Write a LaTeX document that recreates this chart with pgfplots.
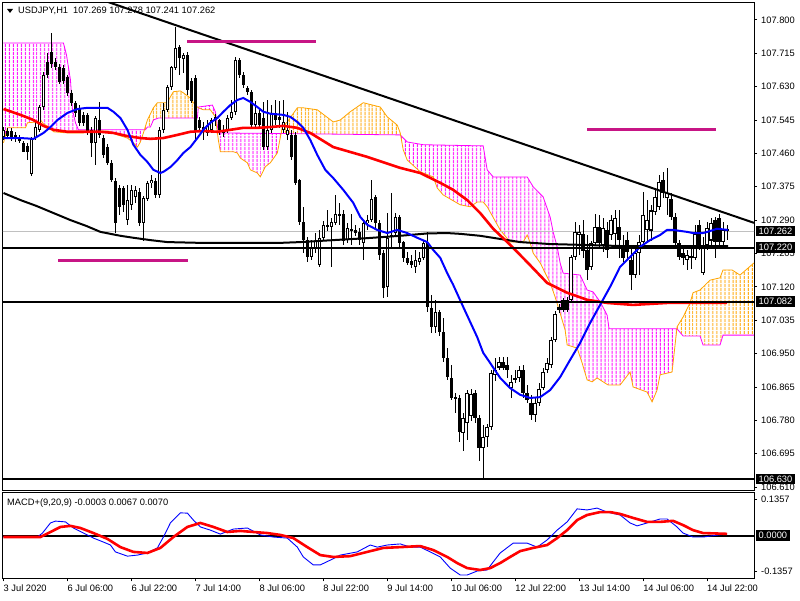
\documentclass[border=0pt]{standalone}
\usepackage{pgfplots}
\usepackage{pgfplotstable}
\pgfplotsset{compat=1.18}
\usetikzlibrary{patterns.meta,calc,backgrounds}
\usepackage{fontspec}
\setmainfont{Liberation Sans}
\definecolor{mtorange}{RGB}{255,165,0}
\definecolor{mtmag}{RGB}{255,0,255}
\definecolor{mtseg}{RGB}{199,21,133}
\definecolor{mtgray}{RGB}{192,192,192}
\newcommand{\mtfont}{\fontsize{9.3}{11}\selectfont}

\pgfplotstableread{
i o h l c
0 107.502 107.528 107.494 107.520
1 107.517 107.525 107.497 107.505
2 107.517 107.525 107.492 107.499
3 107.507 107.515 107.489 107.502
4 107.499 107.507 107.487 107.494
5 107.487 107.492 107.464 107.466
6 107.481 107.487 107.443 107.466
7 107.410 107.502 107.405 107.497
8 107.499 107.545 107.494 107.528
9 107.520 107.583 107.515 107.578
10 107.578 107.668 107.571 107.660
11 107.693 107.716 107.652 107.660
12 107.719 107.767 107.678 107.688
13 107.693 107.703 107.673 107.680
14 107.680 107.688 107.637 107.642
15 107.680 107.685 107.637 107.645
16 107.655 107.660 107.606 107.614
17 107.614 107.622 107.581 107.589
18 107.589 107.596 107.555 107.563
19 107.576 107.583 107.530 107.538
20 107.558 107.566 107.530 107.538
21 107.558 107.563 107.507 107.512
22 107.520 107.528 107.451 107.487
23 107.487 107.555 107.431 107.550
24 107.545 107.591 107.499 107.507
25 107.499 107.507 107.448 107.456
26 107.476 107.484 107.431 107.436
27 107.436 107.443 107.387 107.392
28 107.392 107.397 107.257 107.283
29 107.372 107.380 107.303 107.324
30 107.372 107.377 107.311 107.329
31 107.290 107.380 107.278 107.341
32 107.329 107.380 107.316 107.367
33 107.349 107.377 107.334 107.367
34 107.362 107.372 107.275 107.283
35 107.283 107.354 107.239 107.346
36 107.346 107.392 107.341 107.387
37 107.385 107.405 107.372 107.392
38 107.390 107.397 107.346 107.354
39 107.354 107.528 107.346 107.520
40 107.520 107.589 107.512 107.571
41 107.571 107.634 107.566 107.629
42 107.629 107.685 107.622 107.680
43 107.678 107.782 107.673 107.729
44 107.731 107.736 107.660 107.703
45 107.701 107.716 107.665 107.711
46 107.711 107.719 107.609 107.622
47 107.647 107.652 107.589 107.596
48 107.652 107.660 107.494 107.520
49 107.545 107.553 107.515 107.525
50 107.528 107.540 107.494 107.520
51 107.512 107.545 107.505 107.532
52 107.520 107.550 107.512 107.545
53 107.545 107.561 107.532 107.553
54 107.545 107.550 107.507 107.520
55 107.520 107.532 107.502 107.512
56 107.520 107.558 107.512 107.550
57 107.550 107.596 107.545 107.566
58 107.566 107.706 107.558 107.698
59 107.698 107.703 107.652 107.660
60 107.660 107.668 107.627 107.634
61 107.627 107.634 107.609 107.617
62 107.617 107.622 107.525 107.532
63 107.532 107.596 107.525 107.563
64 107.563 107.571 107.525 107.532
65 107.550 107.591 107.469 107.476
66 107.476 107.596 107.469 107.520
67 107.520 107.583 107.512 107.563
68 107.563 107.596 107.532 107.545
69 107.553 107.596 107.525 107.545
70 107.520 107.596 107.512 107.540
71 107.507 107.566 107.494 107.520
72 107.507 107.520 107.443 107.451
73 107.507 107.515 107.380 107.385
74 107.392 107.397 107.278 107.285
75 107.285 107.324 107.206 107.239
76 107.239 107.247 107.183 107.196
77 107.196 107.239 107.188 107.222
78 107.219 107.257 107.206 107.237
79 107.176 107.265 107.171 107.245
80 107.245 107.290 107.239 107.278
81 107.273 107.316 107.265 107.278
82 107.273 107.296 107.171 107.285
83 107.285 107.354 107.278 107.308
84 107.303 107.334 107.278 107.308
85 107.308 107.316 107.227 107.239
86 107.239 107.283 107.232 107.270
87 107.265 107.308 107.227 107.267
88 107.265 107.278 107.250 107.257
89 107.260 107.270 107.227 107.239
90 107.234 107.290 107.188 107.283
91 107.283 107.303 107.265 107.290
92 107.290 107.392 107.285 107.346
93 107.349 107.354 107.270 107.283
94 107.283 107.290 107.188 107.201
95 107.206 107.214 107.092 107.117
96 107.120 107.308 107.094 107.247
97 107.250 107.359 107.219 107.252
98 107.257 107.308 107.252 107.298
99 107.298 107.303 107.219 107.232
100 107.234 107.239 107.183 107.194
101 107.194 107.209 107.176 107.181
102 107.186 107.201 107.168 107.176
103 107.171 107.214 107.155 107.188
104 107.183 107.209 107.176 107.194
105 107.194 107.239 107.188 107.232
106 107.232 107.260 107.056 107.069
107 107.066 107.099 107.003 107.018
108 107.018 107.087 107.003 107.056
109 107.056 107.061 106.997 107.005
110 107.005 107.041 106.929 106.939
111 106.939 106.964 106.883 106.890
112 106.890 106.921 106.832 106.839
113 106.839 106.850 106.799 106.834
114 106.837 106.845 106.725 106.750
115 106.748 106.799 106.704 106.786
116 106.773 106.857 106.730 106.850
117 106.794 106.862 106.781 106.850
118 106.850 106.857 106.773 106.786
119 106.786 106.794 106.679 106.709
120 106.709 106.768 106.633 106.738
121 106.738 106.771 106.712 106.763
122 106.763 106.908 106.755 106.901
123 106.896 106.941 106.883 106.908
124 106.916 106.941 106.908 106.929
125 106.929 106.941 106.908 106.916
126 106.921 106.941 106.888 106.908
127 106.862 106.896 106.839 106.878
128 106.888 106.908 106.875 106.883
129 106.888 106.921 106.878 106.908
130 106.908 106.921 106.837 106.850
131 106.850 106.870 106.824 106.832
132 106.824 106.845 106.781 106.794
133 106.794 106.839 106.776 106.824
134 106.824 106.875 106.817 106.862
135 106.862 106.913 106.857 106.903
136 106.908 106.939 106.901 106.926
137 106.921 106.992 106.913 106.985
138 106.985 107.061 106.980 107.053
139 107.069 107.079 107.056 107.061
140 107.087 107.092 107.056 107.061
141 107.087 107.094 107.056 107.061
142 107.087 107.201 107.082 107.196
143 107.196 107.285 107.188 107.260
144 107.252 107.278 107.201 107.260
145 107.257 107.290 107.194 107.214
146 107.214 107.252 107.137 107.163
147 107.171 107.239 107.163 107.232
148 107.232 107.308 107.227 107.273
149 107.273 107.303 107.222 107.232
150 107.227 107.296 107.209 107.270
151 107.265 107.285 107.194 107.214
152 107.252 107.303 107.239 107.290
153 107.257 107.316 107.227 107.296
154 107.273 107.316 107.194 107.239
155 107.227 107.252 107.183 107.194
156 107.239 107.260 107.188 107.209
157 107.188 107.227 107.112 107.150
158 107.150 107.219 107.143 107.206
159 107.206 107.252 107.150 107.234
160 107.234 107.362 107.227 107.303
161 107.265 107.341 107.232 107.290
162 107.265 107.329 107.239 107.316
163 107.311 107.367 107.303 107.349
164 107.324 107.405 107.316 107.387
165 107.392 107.413 107.346 107.359
166 107.346 107.423 107.303 107.359
167 107.346 107.359 107.290 107.298
168 107.298 107.308 107.219 107.232
169 107.232 107.239 107.188 107.196
170 107.206 107.219 107.176 107.194
171 107.188 107.214 107.163 107.201
172 107.201 107.227 107.168 107.194
173 107.196 107.278 107.188 107.257
174 107.278 107.290 107.214 107.227
175 107.155 107.247 107.150 107.222
176 107.227 107.285 107.214 107.270
177 107.239 107.296 107.227 107.283
178 107.290 107.298 107.194 107.234
179 107.296 107.308 107.227 107.234
180 107.234 107.285 107.219 107.265
181 107.269 107.278 107.241 107.262
}\candles

\pgfplotstableread{
i p
0 107.741
15 107.741
15.75 107.711
16.75 107.647
17.25 107.571
18 107.538
18.75 107.520
35.5 107.520
36 107.527
36.75 107.527
37.5 107.545
38.75 107.550
48.5 107.550
48.75 107.578
52.25 107.583
53 107.566
53.75 107.512
74.25 107.510
99.25 107.507
101 107.489
105 107.482
120 107.479
121 107.418
122.5 107.400
131 107.400
132.5 107.375
135 107.349
136.75 107.298
137.5 107.260
138.5 107.222
139.25 107.181
140 107.155
144.25 107.150
146 107.112
147.5 107.107
149.25 107.082
151 107.048
151.5 107.013
168.5 107.013
170 106.995
174.25 106.995
175 106.972
179.25 106.972
180 106.997
187.75 106.997
}\spanB

\pgfplotstableread{
i p
0 107.487
1 107.525
5.5 107.525
6 107.538
8.5 107.540
9.25 107.545
10 107.535
11.75 107.525
12.5 107.515
16 107.512
20 107.512
21 107.517
26 107.517
26.75 107.515
28.5 107.507
31 107.499
32.5 107.487
33.5 107.476
34.25 107.489
35 107.512
36 107.545
37.5 107.576
38.5 107.589
41 107.589
41.75 107.604
42.5 107.617
44.25 107.619
45 107.614
46.75 107.601
47.5 107.589
48.5 107.578
48.75 107.576
50 107.571
51.75 107.571
53 107.553
53.75 107.494
54.25 107.464
57.5 107.464
58.5 107.461
59.25 107.448
61 107.436
61.75 107.418
63.5 107.410
64.25 107.400
65.5 107.426
66.75 107.436
68.5 107.461
69.75 107.527
71 107.540
73.5 107.576
75 107.576
78.5 107.571
82.5 107.540
84.25 107.545
86.75 107.566
90 107.589
94.25 107.578
96 107.553
98.5 107.532
99.25 107.512
100 107.469
101 107.443
104.25 107.413
107.5 107.400
108.5 107.372
110 107.354
114.25 107.329
116.75 107.324
118.5 107.336
120 107.336
121 107.324
124.25 107.265
126.75 107.234
130 107.234
131 107.252
131.75 107.232
132.5 107.206
134.25 107.181
136.75 107.130
138 107.094
139.25 107.053
140.5 107.010
141 106.972
143.5 106.964
144.75 106.926
146 106.883
147.25 106.878
148.5 106.888
150 106.878
151.25 106.870
154.25 106.870
156.75 106.903
157.5 106.865
161 106.852
162.25 106.827
163.5 106.857
164.25 106.896
167.25 106.903
168.5 107.018
170 107.043
171.75 107.079
172.5 107.105
174.25 107.112
176.75 107.137
179.25 107.143
180 107.163
182.25 107.163
184.25 107.150
187.75 107.181
}\spanA

% cloud regions: span A forward, then span B backward
\pgfplotstableread{
i p
0 107.487
1 107.525
5.5 107.525
6 107.538
8.5 107.540
9.25 107.545
10 107.535
11.75 107.525
12.5 107.515
16 107.512
20 107.512
21 107.517
26 107.517
26.75 107.515
28.5 107.507
31 107.499
32.5 107.487
33.5 107.476
34.25 107.489
35 107.512
35.24 107.520
18.75 107.520
18 107.538
17.25 107.571
16.75 107.647
15.75 107.711
15 107.741
0 107.741
}\regA

\pgfplotstableread{
i p
35.24 107.520
36 107.545
37.5 107.576
38.5 107.589
41 107.589
41.75 107.604
42.5 107.617
44.25 107.619
45 107.614
46.75 107.601
47.5 107.589
48.5 107.578
48.73 107.576
48.5 107.550
38.75 107.550
37.5 107.545
36.75 107.527
36 107.527
35.5 107.520
}\regB

\pgfplotstableread{
i p
48.73 107.576
50 107.571
51.75 107.571
53 107.553
53.75 107.494
54.25 107.464
57.5 107.464
58.5 107.461
59.25 107.448
61 107.436
61.75 107.418
63.5 107.410
64.25 107.400
65.5 107.426
66.75 107.436
68.5 107.461
69.44 107.511
53.75 107.512
53 107.566
52.25 107.583
48.75 107.578
}\regC

\pgfplotstableread{
i p
69.44 107.511
69.75 107.527
71 107.540
73.5 107.576
75 107.576
78.5 107.571
82.5 107.540
84.25 107.545
86.75 107.566
90 107.589
94.25 107.578
96 107.553
98.5 107.532
99.25 107.512
99.36 107.506
99.25 107.507
74.25 107.510
}\regD

\pgfplotstableread{
i p
99.36 107.506
100 107.469
101 107.443
104.25 107.413
107.5 107.400
108.5 107.372
110 107.354
114.25 107.329
116.75 107.324
118.5 107.336
120 107.336
121 107.324
124.25 107.265
126.75 107.234
130 107.234
131 107.252
131.75 107.232
132.5 107.206
134.25 107.181
136.75 107.130
138 107.094
139.25 107.053
140.5 107.010
141 106.972
143.5 106.964
144.75 106.926
146 106.883
147.25 106.878
148.5 106.888
150 106.878
151.25 106.870
154.25 106.870
156.75 106.903
157.5 106.865
161 106.852
162.25 106.827
163.5 106.857
164.25 106.896
167.25 106.903
168.45 107.013
151.5 107.013
151 107.048
149.25 107.082
147.5 107.107
146 107.112
144.25 107.150
140 107.155
139.25 107.181
138.5 107.222
137.5 107.260
136.75 107.298
135 107.349
132.5 107.375
131 107.400
122.5 107.400
121 107.418
120 107.479
105 107.482
101 107.489
}\regE

\pgfplotstableread{
i p
168.45 107.013
168.5 107.018
170 107.043
171.75 107.079
172.5 107.105
174.25 107.112
176.75 107.137
179.25 107.143
180 107.163
182.25 107.163
184.25 107.150
187.75 107.181
187.75 106.997
180 106.997
179.25 106.972
175 106.972
174.25 106.995
170 106.995
168.5 107.013
}\regF

\pgfplotstableread{
i p
0 107.499
4.25 107.499
7.5 107.497
10 107.512
11.75 107.527
13.5 107.545
16 107.563
18.5 107.573
21 107.576
26 107.576
27.5 107.566
29.25 107.550
31 107.520
32.5 107.482
34.25 107.456
36 107.438
37.5 107.418
39.25 107.410
40 107.413
41.75 107.425
43.5 107.443
45 107.461
46.75 107.476
48.5 107.499
50 107.520
51.75 107.538
53.5 107.550
55 107.566
56.75 107.583
58.5 107.596
60 107.601
61.75 107.591
63.5 107.578
65 107.566
66.75 107.561
70 107.558
71.75 107.553
73.5 107.540
75 107.525
76.75 107.494
78.5 107.456
80.5 107.418
82.5 107.397
85 107.367
87.5 107.334
89.25 107.298
91 107.278
93.5 107.265
96 107.257
98.5 107.265
101 107.257
103.5 107.245
106 107.234
107.5 107.214
109.25 107.194
111 107.155
112.5 107.125
115 107.069
118.5 106.992
120 106.952
121.75 106.926
124.25 106.888
126.75 106.862
129.25 106.845
131.75 106.837
134.25 106.839
136.75 106.857
139.25 106.890
141.75 106.934
144.25 106.977
146.75 107.028
149.25 107.074
151.75 107.120
154.25 107.171
156.75 107.196
159.25 107.222
161.75 107.239
164.25 107.252
166 107.265
167.5 107.265
171 107.260
172.5 107.257
175 107.257
176.75 107.262
178.5 107.268
181.25 107.265
}\maBlue

\pgfplotstableread{
i p
0 107.573
4.25 107.558
7.5 107.545
10 107.530
12.5 107.520
16 107.515
24.25 107.515
27.5 107.512
31 107.504
34.25 107.499
36.75 107.497
40 107.499
43.5 107.507
46.75 107.515
50 107.517
53.5 107.515
56.75 107.520
60 107.525
63.5 107.525
66.75 107.527
70 107.530
73.5 107.525
76.75 107.512
82.5 107.476
91 107.451
99.25 107.423
104.25 107.410
109.25 107.385
112.5 107.367
116 107.341
119.25 107.308
122.5 107.268
126.75 107.227
131 107.183
136 107.130
141 107.105
146 107.087
151 107.079
157.5 107.074
166 107.079
174.25 107.079
181 107.079
}\maRed

\pgfplotstableread{
i p
0 107.359
4.25 107.341
8.25 107.326
12.5 107.308
16.75 107.290
20.75 107.275
24.25 107.260
29.25 107.250
32.5 107.245
36.75 107.239
41 107.234
49.25 107.232
69.25 107.232
74.25 107.234
82.5 107.239
91 107.244
99.25 107.250
106 107.256
111 107.257
114.25 107.255
119.25 107.250
124.25 107.242
129.25 107.234
136.75 107.229
144.25 107.227
154.25 107.224
181.25 107.224
}\maBlack

\pgfplotstableread{
i v
0 -0.005
4.25 -0.005
8.5 -0.005
9.75 0.010
11.75 0.048
13 0.055
15.5 0.052
17.5 0.029
20 0.010
22.5 -0.009
25 -0.024
26.75 -0.035
28 -0.061
31 -0.077
33.5 -0.073
36 -0.065
38.5 -0.046
40 -0.005
41.75 0.048
44.25 0.086
46 0.085
47.5 0.059
49.25 0.033
51.75 0.021
54.25 0.006
57.5 0.025
61 0.029
64.25 0.003
67.5 -0.005
71 -0.009
73.5 -0.043
75 -0.080
77.5 -0.110
79.25 -0.110
81.75 -0.092
84.25 -0.073
88.5 -0.061
91.75 -0.035
93.5 -0.043
96 -0.035
99.25 -0.031
101.75 -0.043
104.25 -0.043
106.75 -0.061
109.25 -0.080
111.75 -0.122
114.25 -0.148
116 -0.148
118.5 -0.133
121 -0.129
122.5 -0.099
124.25 -0.065
127.5 -0.028
131 -0.028
133.5 -0.043
136 -0.016
138.5 0.021
141 0.052
143.5 0.101
146 0.097
148.5 0.104
151 0.089
154.25 0.078
156.75 0.048
158.5 0.037
161 0.048
164.25 0.063
166 0.063
168.5 0.033
170 0.010
172.5 -0.005
175 -0.005
181 0.007
}\macdMain

\pgfplotstableread{
i v
0 -0.005
9.25 -0.005
11.75 0.014
14.25 0.033
16.75 0.037
19.25 0.029
22.5 0.010
26 -0.012
29.25 -0.043
32.5 -0.061
36 -0.065
39.25 -0.046
42.5 -0.005
46 0.033
49.25 0.048
52.5 0.033
56 0.014
59.25 0.018
62.5 0.014
66 0.010
69.25 0.003
72.5 -0.009
76 -0.043
79.25 -0.073
82.5 -0.080
86.75 -0.077
91 -0.061
95 -0.046
99.25 -0.043
104.25 -0.039
107.5 -0.054
111 -0.080
113.5 -0.103
116 -0.122
119.25 -0.129
121.75 -0.122
124.25 -0.103
126.75 -0.080
129.25 -0.058
132.5 -0.046
136 -0.035
138.5 -0.009
141 0.021
143.5 0.059
146 0.078
149.25 0.089
151.75 0.089
154.25 0.082
157.5 0.067
161 0.052
164.25 0.052
167.5 0.056
170 0.040
172.5 0.021
175 0.010
181 0.007
}\macdSignal

\begin{document}
\mtfont
\begin{tikzpicture}[x=1pt,y=1pt,
  mtbox/.style={fill=black, text=white, anchor=west, inner xsep=3pt, inner ysep=2pt, font=\mtfont, xshift=1.5pt},
  hatchM/.style={draw=none, pattern={Lines[angle=90,distance=4pt,line width=1pt]}, pattern color=mtmag},
  hatchO/.style={draw=none, pattern={Lines[angle=90,distance=4pt,line width=1pt]}, pattern color=mtorange}]

\begin{axis}[
  scale only axis,
  width=751pt, height=487pt,
  xmin=-0.125, xmax=187.75, ymin=106.6025, ymax=107.843,
  axis line style={black, line width=1pt},
  xtick=\empty,
  ytick={106.610,106.695,106.780,106.865,106.950,107.035,107.120,107.205,107.290,107.375,107.460,107.545,107.630,107.715,107.800},
  ytick pos=right, yticklabel pos=right,
  tick align=outside, major tick length=3pt,
  tick style={black, line width=0.8pt},
  scaled y ticks=false,
  yticklabel style={font=\mtfont, anchor=west, inner xsep=0pt, xshift=4pt,
    /pgf/number format/fixed, /pgf/number format/fixed zerofill, /pgf/number format/precision=3,
    /pgf/number format/1000 sep={}, /pgf/number format/assume math mode=true},
]
% Ichimoku cloud hatching
\addplot[hatchM] table[x=i,y=p] {\regA} -- cycle;
\addplot[hatchO] table[x=i,y=p] {\regB} -- cycle;
\addplot[hatchM] table[x=i,y=p] {\regC} -- cycle;
\addplot[hatchO] table[x=i,y=p] {\regD} -- cycle;
\addplot[hatchM] table[x=i,y=p] {\regE} -- cycle;
\addplot[hatchO] table[x=i,y=p] {\regF} -- cycle;
\addplot[mtmag, line width=0.8pt] table[x=i,y=p] {\spanB};
\addplot[mtorange, line width=0.8pt] table[x=i,y=p] {\spanA};

% bid line
\addplot[mtgray, line width=0.8pt] coordinates {(-1,107.262) (190,107.262)};

% candles: wicks
\addplot[draw=none, mark=none, error bars/.cd, y dir=both, y explicit, error mark=none,
  error bar style={draw=black, line width=1pt}]
  table[x=i, y expr=(\thisrow{h}+\thisrow{l})/2, y error expr=(\thisrow{h}-\thisrow{l})/2] {\candles};
% bodies
\addplot[draw=none, mark=none, error bars/.cd, y dir=both, y explicit, error mark=none,
  error bar style={draw=black, line width=3.4pt}]
  table[x=i, y expr=(\thisrow{o}+\thisrow{c})/2, y error expr={max(abs(\thisrow{c}-\thisrow{o})/2,0.0013)}] {\candles};
% hollow bullish bodies
\addplot[draw=none, mark=none, restrict expr to domain={\thisrow{c}-\thisrow{o}}{0.006:1},
  error bars/.cd, y dir=both, y explicit, error mark=none,
  error bar style={draw=white, line width=1.4pt}]
  table[x=i, y expr=(\thisrow{o}+\thisrow{c})/2, y error expr={abs(\thisrow{c}-\thisrow{o})/2-0.0026}] {\candles};

% moving averages
\addplot[black, line width=2pt] table[x=i,y=p] {\maBlack};
\addplot[red, line width=2.6pt] table[x=i,y=p] {\maRed};
\addplot[blue, line width=2pt] table[x=i,y=p] {\maBlue};

% horizontal levels
\addplot[black, line width=2pt] coordinates {(-1,107.220) (190,107.220)};
\addplot[black, line width=2pt] coordinates {(-1,107.082) (190,107.082)};
\addplot[black, line width=2pt] coordinates {(-1,106.630) (190,106.630)};

% trendline
\addplot[black, line width=2pt] coordinates {(26,107.846) (187.75,107.283)};

% magenta marks
\addplot[mtseg, line width=3pt] coordinates {(46,107.746) (78.25,107.746)};
\addplot[mtseg, line width=3pt] coordinates {(146,107.522) (178.25,107.522)};
\addplot[mtseg, line width=3pt] coordinates {(13.75,107.188) (46.25,107.188)};

\coordinate (b1) at (axis cs:187.75,107.262);
\coordinate (b2) at (axis cs:187.75,107.220);
\coordinate (b3) at (axis cs:187.75,107.082);
\coordinate (b4) at (axis cs:187.75,106.630);
\coordinate (mainTL) at (rel axis cs:0,1);
\coordinate (mainBL) at (rel axis cs:0,0);
\end{axis}

\begin{axis}[
  at={($(mainBL)+(0.5,-45.7)$)}, anchor=origin, scale only axis,
  width=751pt, height=85.5pt,
  xmin=-0.125, xmax=187.75, ymin=-0.161, ymax=0.161,
  axis line style={black, line width=1pt},
  xtick={0,16,32,48,64,80,96,112,128,144,160,176},
  xticklabels={3 Jul 2020,6 Jul 06:00,6 Jul 22:00,7 Jul 14:00,8 Jul 06:00,8 Jul 22:00,9 Jul 14:00,10 Jul 06:00,12 Jul 22:00,13 Jul 14:00,14 Jul 06:00,14 Jul 22:00},
  xtick pos=left, ytick pos=right, yticklabel pos=right,
  ytick={-0.1357,0.1357},
  tick align=outside, major tick length=3pt,
  tick style={black, line width=0.8pt},
  scaled y ticks=false,
  yticklabel style={font=\mtfont, anchor=west, inner xsep=0pt, xshift=4pt,
    /pgf/number format/fixed, /pgf/number format/fixed zerofill, /pgf/number format/precision=4,
    /pgf/number format/assume math mode=true},
  xticklabel style={font=\mtfont, anchor=north west, inner xsep=0pt},
]
\addplot[black, line width=2pt] coordinates {(-1,0) (190,0)};
\addplot[blue, line width=0.9pt] table[x=i,y=v] {\macdMain};
\addplot[red, line width=2.6pt] table[x=i,y=v] {\macdSignal};
\coordinate (b5) at (axis cs:187.75,0);
\end{axis}

\node[mtbox] at (b1) {107.262};
\node[mtbox] at (b2) {107.220};
\node[mtbox] at (b3) {107.082};
\node[mtbox] at (b4) {106.630};
\node[mtbox] at (b5) {0.0000};

% titles
\fill[black] ($(mainTL)+(4,-6)$) -- ($(mainTL)+(10,-6)$) -- ($(mainTL)+(7,-10)$) -- cycle;
\node[anchor=west, inner sep=0pt, font=\mtfont] at ($(mainTL)+(15,-8)$) {USDJPY,H1\hspace{5pt}107.269 107.278 107.241 107.262};
\node[anchor=west, inner sep=0pt, font=\mtfont] at ($(mainTL)+(4,-499.7)$) {MACD+(9,20,9) -0.0003 0.0067 0.0070};

\begin{scope}[on background layer]
\fill[white] ($(mainTL)+(-3,3)$) rectangle ($(mainTL)+(797,-597)$);
\end{scope}
\pgfresetboundingbox
\useasboundingbox ($(mainTL)+(-3,3)$) rectangle ($(mainTL)+(797,-597)$);
\end{tikzpicture}
\end{document}
